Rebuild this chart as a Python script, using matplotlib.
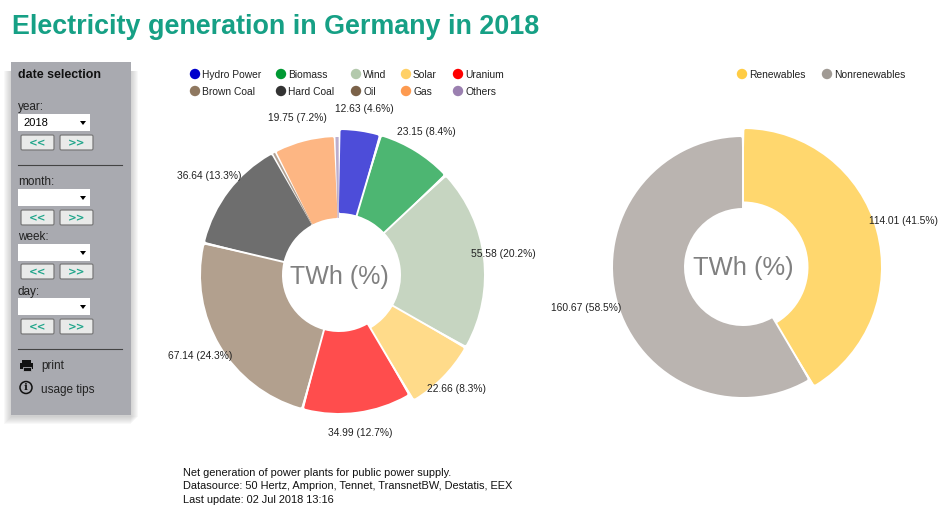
import matplotlib
matplotlib.use('Agg')
import matplotlib.pyplot as plt
import numpy as np
from matplotlib.patches import Rectangle, Circle, FancyBboxPatch, Polygon

plt.rcParams['font.family'] = ['Liberation Sans', 'DejaVu Sans']

W, H = 950, 515

# data, clockwise from the top
sources = ['Hydro Power', 'Biomass', 'Wind', 'Solar', 'Uranium',
           'Brown Coal', 'Hard Coal', 'Oil', 'Gas', 'Others']
twh = [12.63, 23.15, 55.58, 22.66, 34.99, 67.14, 36.64, 0.9, 19.75, 1.24]
source_colors = ['#4d4dd9', '#4db672', '#c6d5c1', '#ffdb8a', '#ff4d4d',
                 '#b2a08e', '#6e6e6e', '#b3a294', '#fdb683', '#bcaecd']
legend_colors = ['#0000cc', '#009933', '#b3c9ac', '#ffd066', '#ff0000',
                 '#8f7860', '#333333', '#7b6249', '#fd9a50', '#9b80b0']
source_labels = ['12.63 (4.6%)', '23.15 (8.4%)', '55.58 (20.2%)', '22.66 (8.3%)', '34.99 (12.7%)',
                 '67.14 (24.3%)', '36.64 (13.3%)', '19.75 (7.2%)']

groups = ['Renewables', 'Nonrenewables']
group_twh = [114.01, 160.67]
group_colors = ['#ffd76e', '#bab4b0']
group_legend_colors = ['#ffcc44', '#a09a94']
group_labels = ['114.01 (41.5%)', '160.67 (58.5%)']

footnote = ['Net generation of power plants for public power supply.',
            'Datasource: 50 Hertz, Amprion, Tennet, TransnetBW, Destatis, EEX',
            'Last update: 02 Jul 2018 13:16']

fig = plt.figure(figsize=(W / 100, H / 100), dpi=100)
ax = fig.add_axes([0, 0, 1, 1])


def Y(py):
    return H - py


def donut(values, colors, cx, cy, radii, gap=1.2):
    # radii: (outer, inner) per slice, the slices are not all the same size in the original
    wedges, _ = ax.pie(values, colors=colors, center=(cx, Y(cy)), radius=radii[0][0],
                       startangle=90, counterclock=False, frame=True)
    thin = [w.theta2 - w.theta1 < 4 for w in wedges]
    for w, c, (r_out, r_in), is_thin in zip(wedges, colors, radii, thin):
        if is_thin:
            w.set_radius(r_out)
            w.set_width(r_out - r_in)
            w.set_theta1(w.theta1 + 0.15)
            w.set_theta2(w.theta2 - 0.15)
            w.set(edgecolor='none', linewidth=0)
        else:
            # pull in and stroke in its own colour, gives the rounded corners
            pad = 1.5
            w.set_radius(r_out - pad)
            w.set_width(r_out - r_in - 2 * pad)
            w.set_theta1(w.theta1 + gap)
            w.set_theta2(w.theta2 - gap)
            w.set(edgecolor=c, linewidth=2.16, joinstyle='round')
    # white separators so the gap does not close towards the hole
    bounds = 90 - np.cumsum(values) / np.sum(values) * 360
    for i, b in enumerate(bounds):
        if thin[i] or thin[(i + 1) % len(values)]:
            continue
        dx, dy = np.cos(np.radians(b)), np.sin(np.radians(b))
        ax.plot([cx + 40 * dx, cx + 150 * dx], [Y(cy) + 40 * dy, Y(cy) + 150 * dy],
                color='white', lw=1.4, zorder=3)


def label(x, py, s, **kw):
    kw.setdefault('fontsize', 7.4)
    kw.setdefault('color', '#222222')
    kw.setdefault('va', 'center')
    ax.text(x, Y(py + 1), s, zorder=5, **kw)


def button(x, py):
    ax.add_patch(FancyBboxPatch((x + 1, Y(py + 16)), 33, 15, boxstyle='round,pad=0,rounding_size=1.5',
                                fc='#e9eae9', ec='#7a7a7a', lw=0.9))


def select(py, value=''):
    ax.add_patch(Rectangle((18, Y(py + 17)), 72, 17, fc='white', ec='none'))
    ax.add_patch(Polygon([(80, Y(py + 7)), (86, Y(py + 7)), (83, Y(py + 11))], fc='black', ec='none'))
    if value:
        label(23, py + 8, value, fontsize=8, color='black')


def nav_buttons(py):
    for x, s in [(20, '<<'), (59, '>>')]:
        button(x, py)
        ax.text(x + 18, Y(py + 9.5), s, fontsize=7.5, fontweight='bold', color='#1fa58a',
                ha='center', va='center', family='DejaVu Sans')


# title
ax.text(12, Y(27), 'Electricity generation in Germany in 2018', fontsize=19.4, fontweight='bold',
        color='#16a085', va='center')

# side panel with soft shadow
for i in range(8):
    ax.add_patch(Rectangle((11 - 7 + i, Y(415 + 9 - i)), 120 + 7, 353 - i, fc='#808080',
                           alpha=0.05, ec='none'))
ax.add_patch(Rectangle((11, Y(415)), 120, 353, fc='#a9aab0', ec='none'))
label(18, 74, 'date selection', fontsize=8.9, fontweight='bold', color='#111111')
label(18, 106, 'year:', fontsize=8.5)
select(114, '2018')
nav_buttons(134)
ax.plot([18, 122], [Y(165), Y(165)], color='#444444', lw=0.8)
label(18, 181, 'month:', fontsize=8.5)
select(189)
nav_buttons(209)
label(18, 236, 'week:', fontsize=8.5)
select(244)
nav_buttons(263)
label(18, 291, 'day:', fontsize=8.5)
select(298)
nav_buttons(318)
ax.plot([18, 122], [Y(349), Y(349)], color='#444444', lw=0.8)
label(41, 365, 'print', fontsize=8.5)
label(41, 389, 'usage tips', fontsize=8.5)
# printer icon
ax.add_patch(Rectangle((20, Y(369)), 13, 6.5, fc='#111111', ec='none'))
ax.add_patch(Rectangle((22, Y(364)), 9, 4, fc='#111111', ec='none'))
ax.add_patch(Rectangle((22.5, Y(371)), 8, 4, fc='#111111', ec='#a9aab0', lw=0.6))
# info icon
ax.add_patch(Circle((26, Y(387.5)), 6, fc='none', ec='#111111', lw=1.1))
ax.text(26, Y(387.7), 'i', fontsize=7.5, fontweight='bold', color='#111111', ha='center', va='center',
        family='DejaVu Serif')

# left donut, the renewable slices are drawn a bit larger
left_radii = [(145, 62)] * 4 + [(138, 57)] * 6
donut(twh, source_colors, 339, 275, left_radii)
label(339.5, 276, 'TWh (%)', fontsize=18, color='#808080', ha='center')
pos_left = [(335, 108), (397, 131), (471, 253), (427, 388), (328, 432), (168, 355), (177, 175), (268, 117)]
for (x, py), s in zip(pos_left, source_labels):
    label(x, py, s)

# left legend
legend_dot_x = [195, 281, 356, 406, 458]
for i, name in enumerate(sources):
    x = legend_dot_x[i % 5]
    py = 74 if i < 5 else 91
    ax.add_patch(Circle((x, Y(py)), 5.2, fc=legend_colors[i], ec='none'))
    label(x + 7, py, name, fontsize=7.4)

# right donut
right_radii = [(138, 65.5), (130, 59)]
donut(group_twh, group_colors, 743, 267, right_radii)
label(743, 267, 'TWh (%)', fontsize=18.4, color='#808080', ha='center')
pos_right = [(869, 220), (551, 307)]
for (x, py), s in zip(pos_right, group_labels):
    label(x, py, s)

for x, name, c in zip([742, 827], groups, group_legend_colors):
    ax.add_patch(Circle((x, Y(74)), 5.2, fc=c, ec='none'))
    label(x + 7, 74, name, fontsize=7.4)

# footnote
for py, s in zip([472, 485, 499], footnote):
    label(183, py, s, fontsize=7.95, color='#111111')

ax.set_xlim(0, W)
ax.set_ylim(0, H)
ax.set_axis_off()
fig.savefig('out.png', dpi=100)
